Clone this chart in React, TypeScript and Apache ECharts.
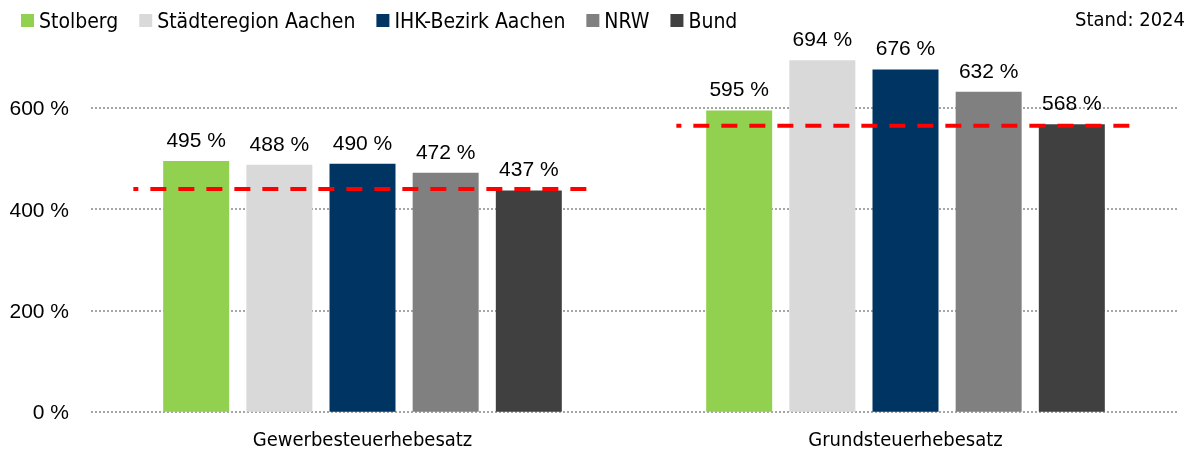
import React, { useEffect, useRef } from "react";
import * as echarts from "echarts";

const categories = ["Gewerbesteuerhebesatz", "Grundsteuerhebesatz"];
const seriesNames = ["Stolberg", "Städteregion Aachen", "IHK-Bezirk Aachen", "NRW", "Bund"];
const stolberg = [495, 595];
const staedteregion = [488, 694];
const ihkBezirk = [490, 676];
const nrw = [472, 632];
const bund = [437, 568];
const referenceValues = [440, 565];
const yTicks = [0, 200, 400, 600, 800];
const standLabel = "Stand: 2024";

const colors = ["#92D050", "#D9D9D9", "#003462", "#808080", "#404040"];
const condensed = '"DejaVu Sans Condensed", "Liberation Sans Narrow", "Roboto Condensed", "Noto Sans", sans-serif';
const arial = '"Liberation Sans", Arial, sans-serif';

export default function App() {
  const ref = useRef<HTMLDivElement>(null);
  useEffect(() => {
    if (!ref.current) return;
    const chart = echarts.init(ref.current, null, { renderer: "svg" });
    const values = [stolberg, staedteregion, ihkBezirk, nrw, bund];
    const barSeries = seriesNames.map((name, i) => ({
      name,
      type: "bar",
      xAxisIndex: 0,
      yAxisIndex: 0,
      data: values[i],
      barWidth: 66,
      barGap: "26%",
      itemStyle: { color: colors[i] },
      label: {
        show: true,
        position: "top",
        distance: 11,
        formatter: (p: any) => `${p.value} %`,
        fontFamily: arial,
        fontSize: 21,
        color: "#000",
      },
    }));
    const lineSeries = referenceValues.map((v, i) => ({
      name: "Referenz " + categories[i],
      type: "line",
      xAxisIndex: 1,
      yAxisIndex: 0,
      data: [
        [i + 0.078, v],
        [i + 0.915, v],
      ],
      symbol: "none",
      silent: true,
      z: 5,
      lineStyle: { color: "#FF0000", width: 4, type: [16, 12], dashOffset: 11 },
    }));
    chart.setOption({
      animation: false,
      textStyle: { fontFamily: condensed },
      legend: {
        data: seriesNames,
        left: 16,
        top: 5,
        itemWidth: 13,
        itemHeight: 13,
        itemGap: 21,
        icon: "rect",
        textStyle: { fontFamily: condensed, fontSize: 21, color: "#000", padding: [0, 0, 0, 0] },
      },
      graphic: [
        {
          type: "text",
          right: 9,
          top: 9,
          style: { text: standLabel, fontFamily: condensed, fontSize: 20, fill: "#000" },
        },
      ],
      grid: { left: 91, right: 17, top: 6.7, bottom: 42.3, containLabel: false },
      xAxis: [
        {
          type: "category",
          data: categories,
          axisLine: { show: false },
          axisTick: { show: false },
          axisLabel: { fontFamily: condensed, fontSize: 20, color: "#000", margin: 17 },
        },
        {
          type: "value",
          min: 0,
          max: 2,
          show: false,
        },
      ],
      yAxis: {
        type: "value",
        min: yTicks[0],
        max: yTicks[yTicks.length - 1],
        interval: 200,
        axisLine: { show: false },
        axisTick: { show: false },
        axisLabel: {
          fontFamily: arial,
          fontSize: 21,
          color: "#000",
          margin: 22,
          formatter: (v: number) => (v === yTicks[yTicks.length - 1] ? "" : `${v} %`),
        },
        splitLine: {
          lineStyle: {
            color: ["#A6A6A6", "#A6A6A6", "#A6A6A6", "#A6A6A6", "transparent"],
            width: 2,
            type: [2, 2],
          },
        },
      },
      series: [...barSeries, ...lineSeries],
    });
    return () => chart.dispose();
  }, []);
  return (
    <div
      ref={ref}
      style={{ width: 1194, height: 454, position: "fixed", left: 0, top: 0 }}
    />
  );
}
